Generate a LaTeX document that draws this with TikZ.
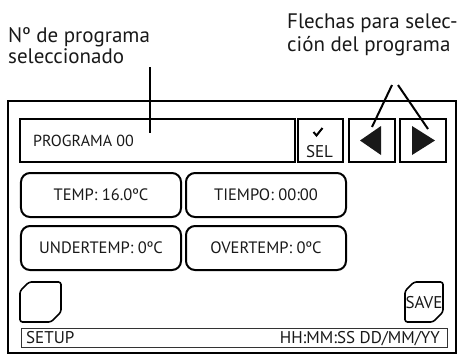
\documentclass[tikz,border=0pt]{standalone}
\usepackage{fontspec}
\setmainfont{PT Sans}
\begin{document}
\begin{tikzpicture}[x=1bp,y=-1bp,
  sqbox/.style={draw=black,line width=2bp,inner sep=0pt},
  rbox/.style={draw=black,line width=2bp,rounded corners=9bp,inner sep=0pt,minimum width=160bp,minimum height=44bp,font=\fontsize{16.5bp}{18bp}\selectfont,text=black!90},
  lbl/.style={inner sep=0pt,font=\fontsize{21bp}{24bp}\selectfont,text=black!90},
  txt/.style={inner sep=0pt,font=\fontsize{16bp}{18bp}\selectfont,text=black!90},
  stxt/.style={inner sep=0pt,font=\fontsize{17bp}{19bp}\selectfont,text=black!90},
  pointer/.style={draw=black,line width=2bp},
  tri/.style={fill=black!90,draw=none},
  btn/.style={draw=black,line width=1.6bp,rounded corners=2.5bp}]
\useasboundingbox (0,0) rectangle (458,356);
% outer frame
\node[sqbox,minimum width=448bp,minimum height=252bp] (screen) at (232,227) {};
% top row
\node[sqbox,minimum width=275bp,minimum height=43bp] (prog) at (157.5,140.5) {};
\node[txt,anchor=west] (progtxt) at (33,140.5) {PROGRAMA 00};
\node[sqbox,minimum width=45bp,minimum height=43bp] (sel) at (320.5,140.5) {};
\node[stxt,anchor=base] (seltxt) at (319.5,157.5) {SEL};
\draw[line width=2bp] (313.5,132) -- (316.5,135.5) -- (322.5,128);
\node[sqbox,minimum width=46bp,minimum height=43bp] (left) at (372,140.5) {};
\node[sqbox,minimum width=46bp,minimum height=43bp] (right) at (423,140.5) {};
\fill[tri] (360,140.5) -- (381,126) -- (381,155) -- cycle;
\fill[tri] (435,140.5) -- (412,126) -- (412,155) -- cycle;
% rounded value boxes
\node[rbox] (temp) at (101,195) {TEMP: 16.0ºC};
\node[rbox] (tiempo) at (266,195) {TIEMPO: 00:00};
\node[rbox] (under) at (101,248) {UNDERTEMP: 0ºC};
\node[rbox] (over) at (266,248) {OVERTEMP: 0ºC};
% buttons
\draw[btn] (20,291) -- (29,282) -- (61,282) -- (61,312) -- (51,322) -- (20,322) -- cycle;
\draw[btn] (405,291) -- (414,282) -- (443,282) -- (443,312) -- (433,322) -- (405,322) -- cycle;
\node[stxt,anchor=center] (save) at (424,303) {SAVE};
% status bar
\node[draw=black!80,line width=1bp,inner sep=0pt,minimum width=425bp,minimum height=19bp] (status) at (234.5,337.5) {};
\node[stxt,anchor=base west] (setup) at (26,343) {SETUP};
\node[stxt,anchor=base east] (clock) at (440,343) {HH:MM:SS DD/MM/YY};
% labels
\node[lbl,anchor=base west] (lblA1) at (8,42) {Nº de programa};
\node[lbl,anchor=base west] (lblA2) at (8,63) {seleccionado};
\node[lbl,anchor=base west] (lblB1) at (287,28) {Flechas para selec-};
\node[lbl,anchor=base west] (lblB2) at (287,51) {ción del programa};
% pointers
\coordinate (pA) at (150,67);
\coordinate (pAend) at (150,133);
\coordinate (pB1) at (392,85);
\coordinate (pB2) at (398,85);
\coordinate (pBl) at (372,127);
\coordinate (pBr) at (428,129);
\draw[pointer] (pA) -- (pAend);
\draw[pointer] (pB1) -- (pBl);
\draw[pointer] (pB2) -- (pBr);
\end{tikzpicture}
\end{document}
